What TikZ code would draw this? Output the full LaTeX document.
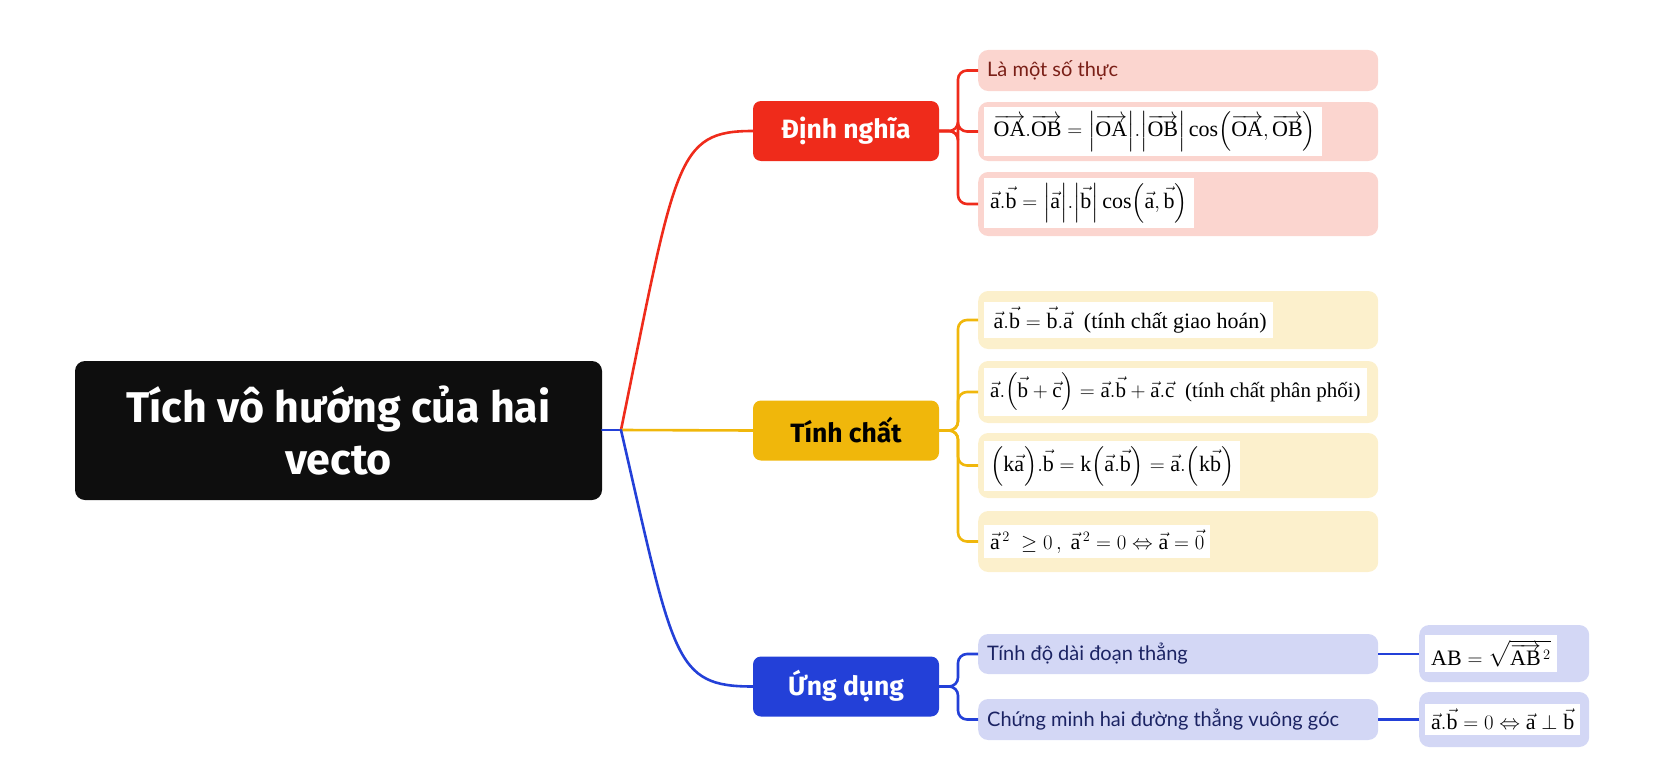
\documentclass[tikz,border=0pt]{standalone}
\usepackage{fontspec}
\usepackage{amsmath,amssymb}
\setmainfont{Liberation Serif}
\newfontfamily\uisans{Lato}
\newfontfamily\headsans{Fira Sans}
\definecolor{redM}{HTML}{EF2B1B}
\definecolor{redL}{HTML}{FBD5CF}
\definecolor{redT}{HTML}{7A1F17}
\definecolor{yelM}{HTML}{F0B70B}
\definecolor{yelL}{HTML}{FCF0CC}
\definecolor{bluM}{HTML}{2340D8}
\definecolor{bluL}{HTML}{D3D7F5}
\definecolor{bluT}{HTML}{1B2363}
\definecolor{rootC}{HTML}{0E0E0E}
\tikzset{
  rootbox/.style={fill=rootC, rounded corners=10pt, text=white, align=center, font=\headsans\bfseries\fontsize{43}{52}\selectfont, minimum width=527pt, minimum height=139pt, inner sep=0pt},
  lvone/.style={rounded corners=8pt, minimum width=186pt, minimum height=60pt, inner sep=0pt, font=\headsans\bfseries\fontsize{26.5}{30}\selectfont},
  lvtwo/.style={rounded corners=10pt, anchor=west, minimum width=400pt, inner sep=0pt},
  lvtxt/.style={anchor=west, inner sep=0pt, font=\uisans\fontsize{20}{24}\selectfont},
  fbox/.style={fill=white, anchor=west, inner xsep=6pt, inner ysep=5pt, font=\fontsize{22}{26}\selectfont},
  link/.style={line width=2.6pt, line cap=round},
  brk/.style={line width=2.6pt, rounded corners=9pt},
}
\newcommand{\va}{\vec{\mathrm{a}}}
\newcommand{\vb}{\vec{\mathrm{b}}}
\newcommand{\vc}{\vec{\mathrm{c}}}
\newcommand{\ovr}[1]{\overrightarrow{\mathrm{#1}}}
\begin{document}
\begin{tikzpicture}[x=1pt,y=-1pt]
\useasboundingbox (0,0) rectangle (1665,784);
% root
\node[rootbox] (root) at (338.5,430.5) {Tích vô hướng của hai\\vecto};
\coordinate (J) at (621,430);
% level 1
\node[lvone, fill=redM, text=white] (def) at (846,131) {Định nghĩa};
\node[lvone, fill=yelM, text=black] (prop) at (846,430.5) {Tính chất};
\node[lvone, fill=bluM, text=white] (app) at (846,686.5) {Ứng dụng};
% root connectors
\draw[link, bluM] (root.east |- J) -- (J);
\draw[link, redM] (J) .. controls (676,160) and (676,131) .. (def.west);
\draw[link, yelM] (J) -- (prop.west);
\draw[link, bluM] (J) .. controls (674,660) and (674,686.5) .. (app.west);
% red children
\node[lvtwo, fill=redL, minimum height=41pt] (r1) at (978,70.5) {};
\node[lvtxt, text=redT] (r1t) at (987,70.5) {Là một số thực};
\node[lvtwo, fill=redL, minimum height=59pt] (r2) at (978,131.5) {};
\node[fbox] (r2f) at (984,131.5) {$\,\ovr{OA}.\ovr{OB}=\Bigl|\ovr{OA}\Bigr|.\Bigl|\ovr{OB}\Bigr|\cos\Bigl(\ovr{OA},\ovr{OB}\Bigr)$};
\node[lvtwo, fill=redL, minimum height=64pt] (r3) at (978,204) {};
\node[fbox] (r3f) at (984,203) {$\va.\vb=\Bigl|\va\Bigr|.\Bigl|\vb\Bigr|\cos\Bigl(\va,\vb\Bigr)$};
\foreach \c in {r1,r2,r3} \draw[brk, redM] (def.east) -- (958,131) |- (\c.west);
% yellow children
\node[lvtwo, fill=yelL, minimum height=58pt] (y1) at (978,320) {};
\node[fbox] (y1f) at (984,320) {$\,\va.\vb=\vb.\va$\ \ (tính chất giao hoán)};
\node[lvtwo, fill=yelL, minimum height=62pt] (y2) at (978,392) {};
\node[fbox, font=\fontsize{21}{25}\selectfont] (y2f) at (984,392) {$\va.\Bigl(\vb+\vc\Bigr)=\va.\vb+\va.\vc$\ \ (tính chất phân phối)};
\node[lvtwo, fill=yelL, minimum height=65pt] (y3) at (978,465.5) {};
\node[fbox] (y3f) at (984,466) {$\Bigl(\mathrm{k}\va\Bigr).\vb=\mathrm{k}\Bigl(\va.\vb\Bigr)=\va.\Bigl(\mathrm{k}\vb\Bigr)$};
\node[lvtwo, fill=yelL, minimum height=61pt] (y4) at (978,541.5) {};
\node[fbox] (y4f) at (984,541.5) {$\va^{\,2}\ \geq 0\,,\ \va^{\,2}=0\Leftrightarrow\va=\vec{0}$};
\foreach \c in {y1,y2,y3,y4} \draw[brk, yelM] (prop.east) -- (958,430.5) |- (\c.west);
% blue children
\node[lvtwo, fill=bluL, minimum height=40pt] (b1) at (978,654) {};
\node[lvtxt, text=bluT] (b1t) at (987,654) {Tính độ dài đoạn thẳng};
\node[lvtwo, fill=bluL, minimum height=41pt] (b2) at (978,719.5) {};
\node[lvtxt, text=bluT] (b2t) at (987,719.5) {Chứng minh hai đường thẳng vuông góc};
\foreach \c in {b1,b2} \draw[brk, bluM] (app.east) -- (958,686.5) |- (\c.west);
% level 3
\node[lvtwo, fill=bluL, minimum width=170pt, minimum height=57pt] (c1) at (1419,653.5) {};
\node[fbox] (c1f) at (1425,653.5) {$\mathrm{AB}=\sqrt{\ovr{AB}^{\,2}}$};
\node[lvtwo, fill=bluL, minimum width=170pt, minimum height=55pt] (c2) at (1419,719.5) {};
\node[fbox] (c2f) at (1425,719.5) {$\va.\vb=0\Leftrightarrow\va\perp\vb$};
\draw[link, bluM, line cap=butt] (b1.east) -- (c1.west |- b1.east);
\draw[link, bluM, line cap=butt] (b2.east) -- (c2.west |- b2.east);
\end{tikzpicture}
\end{document}
